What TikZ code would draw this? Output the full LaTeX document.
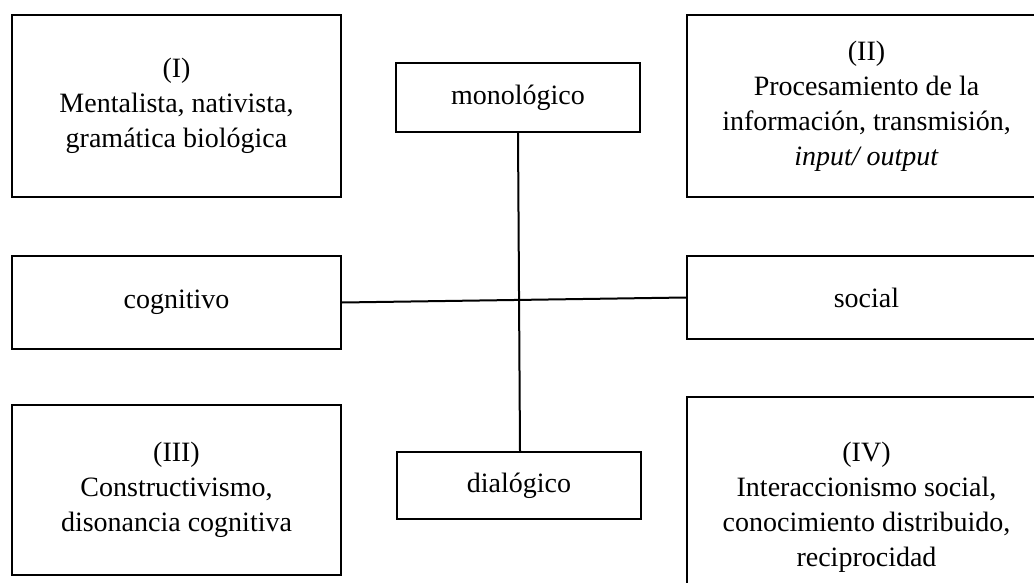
\documentclass[tikz,border=0pt]{standalone}
\usepackage{fontspec}
\setmainfont{Liberation Serif}
\begin{document}
\begin{tikzpicture}[x=1pt,y=-1pt,
  box/.style={draw=black,line width=2pt,inner sep=0pt,align=center,
    font=\fontsize{28}{35}\selectfont},
  link/.style={draw=black,line width=2pt}]
\useasboundingbox (0,0) rectangle (1034,583);
\clip (0,0) rectangle (1034,583);
% quadrant boxes
\node[box,minimum width=329pt,minimum height=182pt] (q1) at (176.5,106)
  {(I)\\Mentalista, nativista,\\gramática biológica};
\node[box,minimum width=359pt,minimum height=182pt] (q2) at (866.5,106)
  {(II)\\Procesamiento de la\\información, transmisión,\\\textit{input/ output}};
\node[box,minimum width=329pt,minimum height=170pt] (q3) at (176.5,490)
  {(III)\\Constructivismo,\\disonancia cognitiva};
\node[box,minimum width=359pt,minimum height=220pt] (q4) at (866.5,507)
  {(IV)\\Interaccionismo social,\\conocimiento distribuido,\\reciprocidad};
% axis labels
\node[box,minimum width=329pt,minimum height=93pt] (cog) at (176.5,302.5) {cognitivo};
\node[box,minimum width=359pt,minimum height=83pt] (soc) at (866.5,297.5) {social};
\node[box,minimum width=244pt,minimum height=69pt] (mono) at (518,97.5) {monológico};
\node[box,minimum width=244pt,minimum height=67pt] (dia) at (519,485.5) {dialógico};
% axes
\draw[link] (cog.east) -- (soc.west);
\draw[link] (mono.south) -- ([xshift=1pt]dia.north);
\end{tikzpicture}
\end{document}
